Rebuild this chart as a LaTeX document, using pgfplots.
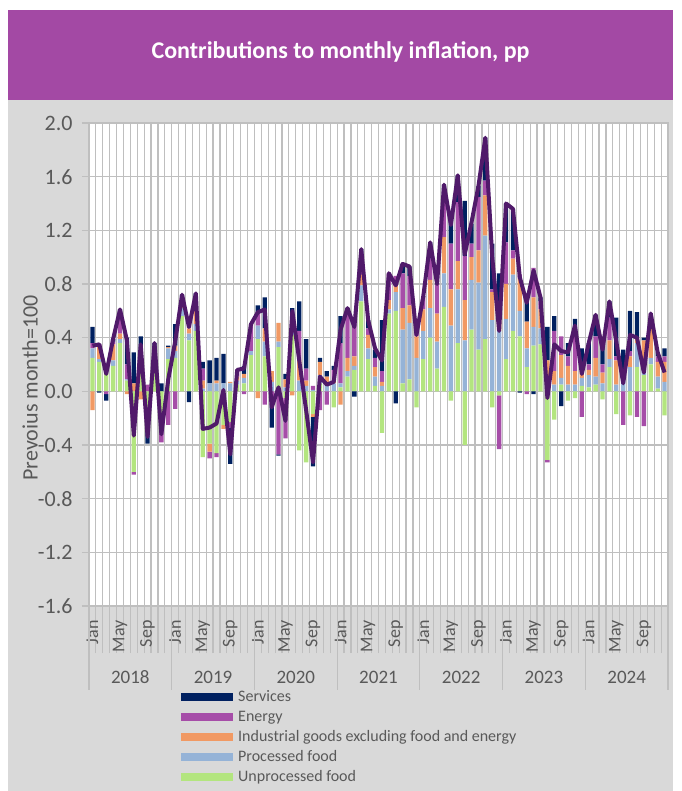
\documentclass[border=0pt]{standalone}
\usepackage{fontspec}
\setmainfont{Carlito}
\usepackage{pgfplots}
\usepackage{pgfplotstable}
\pgfplotsset{compat=1.18}

\definecolor{banner}{RGB}{163,73,164}
\definecolor{panel}{RGB}{217,217,217}
\definecolor{cS}{RGB}{0,32,96}
\definecolor{cE}{RGB}{166,77,168}
\definecolor{cI}{RGB}{241,153,99}
\definecolor{cP}{RGB}{149,179,215}
\definecolor{cG}{RGB}{179,229,127}
\definecolor{cL}{RGB}{80,26,106}
\definecolor{gridc}{RGB}{191,191,191}
\definecolor{txt}{RGB}{89,89,89}

\pgfplotstableread{
m G P I E S T
0 0.25 0.07 -0.14 0.04 0.12 0.34
1 0.22 0.02 0.10 0.01 -0.01 0.35
2 0.14 0.04 0.02 -0.02 -0.05 0.13
3 0.19 0.04 0.12 0.02 0.02 0.39
4 0.36 0.03 0.04 0.12 0.06 0.61
5 0.08 0.01 -0.02 0.11 0.20 0.38
6 -0.60 0.00 0.06 -0.02 0.23 -0.33
7 0.20 0.03 -0.06 0.02 0.16 0.35
8 -0.15 -0.07 -0.03 0.05 -0.14 -0.34
9 0.18 0.04 0.08 0.03 0.03 0.36
10 -0.20 -0.03 -0.02 -0.13 0.06 -0.32
11 0.24 0.08 0.01 -0.25 0.01 0.09
12 0.25 0.05 0.04 -0.13 0.16 0.37
13 0.56 0.06 0.03 0.05 0.02 0.72
14 0.38 0.05 0.04 0.08 -0.08 0.48
15 0.45 0.05 0.12 0.03 0.08 0.73
16 -0.49 0.02 0.06 0.09 0.05 -0.28
17 -0.39 0.06 -0.06 -0.05 0.17 -0.27
18 -0.46 0.06 0.02 -0.03 0.17 -0.24
19 -0.25 0.06 -0.03 0.00 0.22 0.01
20 -0.23 0.06 0.01 -0.04 -0.27 -0.47
21 0.05 0.03 0.03 0.04 0.01 0.16
22 0.06 0.04 0.03 -0.02 0.06 0.17
23 0.27 0.03 0.00 0.20 0.00 0.50
24 0.39 0.10 -0.05 0.09 0.06 0.59
25 0.26 0.11 0.10 -0.10 0.23 0.61
26 0.00 0.07 0.08 -0.10 -0.17 -0.12
27 0.33 0.04 0.14 -0.47 -0.01 0.03
28 -0.05 0.03 0.06 -0.30 0.04 -0.22
29 0.42 0.06 -0.03 0.06 0.08 0.60
30 -0.44 0.08 0.15 0.22 0.22 0.23
31 -0.53 0.04 0.04 0.09 0.22 -0.14
32 -0.17 0.01 -0.02 0.03 -0.37 -0.53
33 0.06 0.06 0.10 -0.14 0.03 0.11
34 0.00 0.05 0.06 -0.10 0.04 0.05
35 -0.12 0.06 0.02 0.08 0.03 0.07
36 0.03 0.03 -0.10 0.30 0.20 0.46
37 0.11 0.04 0.10 0.36 0.01 0.62
38 0.16 0.03 0.07 0.26 -0.04 0.48
39 0.67 0.12 0.08 0.10 0.09 1.06
40 0.24 0.08 0.10 0.05 0.06 0.53
41 0.04 0.07 0.07 0.07 0.06 0.32
42 -0.31 0.04 0.03 0.08 0.38 0.23
43 0.58 0.03 0.07 0.20 0.00 0.88
44 0.60 0.14 0.07 0.05 -0.09 0.79
45 0.06 0.40 0.16 0.26 0.07 0.95
46 0.09 0.42 0.13 0.22 0.07 0.93
47 -0.12 0.25 0.16 0.08 0.05 0.42
48 0.24 0.21 0.16 0.09 0.01 0.71
49 0.40 0.22 0.21 0.16 0.12 1.11
50 0.17 0.20 0.21 0.22 0.00 0.80
51 0.63 0.25 0.27 0.27 0.12 1.54
52 -0.07 0.49 0.27 0.34 0.20 1.24
53 0.36 0.40 0.21 0.44 0.20 1.61
54 -0.40 0.38 0.30 0.33 0.41 1.02
55 0.46 0.37 0.17 0.10 0.15 1.26
56 0.31 0.50 0.24 0.40 0.08 1.53
57 0.39 0.77 0.30 0.11 0.32 1.89
58 -0.12 0.53 0.21 0.02 0.34 1.00
59 -0.03 0.45 0.20 -0.40 0.23 0.45
60 0.24 0.30 0.26 0.31 0.29 1.40
61 0.45 0.42 0.12 0.06 0.31 1.36
62 0.41 0.19 0.24 0.03 -0.01 0.85
63 0.18 0.14 0.20 -0.02 0.16 0.66
64 0.34 0.14 0.22 0.22 -0.02 0.90
65 0.35 0.12 0.14 0.06 0.03 0.70
66 -0.51 0.10 0.13 -0.02 0.25 -0.05
67 -0.21 0.05 0.10 0.30 0.11 0.35
68 0.05 0.05 0.17 0.14 -0.11 0.30
69 -0.07 0.05 0.14 0.07 0.10 0.29
70 -0.05 0.05 0.10 0.28 0.11 0.49
71 0.04 0.06 0.10 -0.19 0.12 0.13
72 0.03 0.09 0.04 0.04 0.16 0.36
73 0.05 0.06 0.14 0.16 0.16 0.57
74 -0.06 0.06 0.08 0.06 0.17 0.31
75 0.18 0.06 0.14 0.17 0.12 0.67
76 -0.17 0.05 0.18 0.03 0.29 0.37
77 0.00 0.10 0.06 -0.25 0.15 0.06
78 -0.18 0.18 0.08 0.04 0.30 0.42
79 0.18 0.18 0.04 -0.19 0.19 0.40
80 0.12 0.06 0.20 -0.26 0.02 0.14
81 0.20 0.05 0.26 0.07 0.00 0.58
82 0.02 0.09 0.11 0.04 0.03 0.29
83 -0.18 0.07 0.15 0.04 0.06 0.14
}\data

\pgfplotsset{
  base/.style={
    scale only axis, width=579pt, height=483pt,
    at={(89pt,185pt)}, anchor=south west,
    xmin=-0.5, xmax=83.5, ymin=-1.6, ymax=2.0,
    clip=false,
  },
  bars/.style={base, ybar stacked, bar width=0.62},
}

\begin{document}
\begin{tikzpicture}[x=1pt,y=1pt]
\fill[white] (0,0) rectangle (681,791);
\fill[panel] (8,0) rectangle (673,691);
\fill[banner] (8,691) rectangle (673,781);
\node[text=white, font=\bfseries\fontsize{24}{28}\selectfont] at (340.5,739) {Contributions to monthly inflation, pp};
\node[rotate=90, text=txt, font=\fontsize{22}{26}\selectfont] at (30,403) {Prevoius month=100};

% long boundary ticks below the axis
\begin{axis}[base, axis y line=none, axis x line*=bottom,
  axis line style={draw=gridc, line width=1.2pt, -},
  xtick={-0.5,0.5,...,83.5}, xticklabels={},
  tick align=outside, major tick length=47pt,
  xtick style={draw=gridc, line width=1.2pt}]
\end{axis}

\begin{axis}[bars,
  axis background/.style={fill=white},
  axis line style={draw=gridc, line width=1.2pt},
  ytick={-1.6,-1.2,-0.8,-0.4,0,0.4,0.8,1.2,1.6,2.0},
  ymajorgrids, xmajorgrids,
  major grid style={draw=gridc, line width=1.2pt},
  ytick style={draw=gridc, line width=1.2pt},
  ytick pos=left,
  yticklabel style={font=\fontsize{22}{24}\selectfont, text=txt, xshift=-6pt,
     /pgf/number format/.cd, fixed, fixed zerofill, precision=1, assume math mode=true},
  xtick={-0.5,0.5,...,83.5},
  xticklabels={},
  xtick pos=bottom,
  tick align=outside,
  major tick length=7pt,
  xtick style={draw=gridc, line width=1.2pt},
  extra x ticks={0,4,8,12,16,20,24,28,32,36,40,44,48,52,56,60,64,68,72,76,80},
  extra x tick labels={Jan,May,Sep,Jan,May,Sep,Jan,May,Sep,Jan,May,Sep,Jan,May,Sep,Jan,May,Sep,Jan,May,Sep},
  extra x tick style={major tick length=0pt, grid=none,
     tick label style={yshift=-11pt, rotate=90, anchor=east, font=\fontsize{18}{20}\selectfont, text=txt}},
  legend image code/.code={\fill[#1] (0pt,-4pt) rectangle (52pt,4pt); \path (57pt,0pt);},
  reverse legend,
  legend cell align=left,
  legend style={at={(0.1589,-0.172)}, anchor=north west, draw=none, fill=none,
     inner sep=0pt, row sep=4pt, font=\fontsize{16}{19}\selectfont, text=txt,
     nodes={inner sep=0pt, text height=12pt, text depth=4pt}},
]
\addplot[fill=cG, draw=none] table[x=m, y expr={max(\thisrow{G},0)}] {\data};
\addlegendentry{Unprocessed food}
\addplot[fill=cP, draw=none] table[x=m, y expr={max(\thisrow{P},0)}] {\data};
\addlegendentry{Processed food}
\addplot[fill=cI, draw=none] table[x=m, y expr={max(\thisrow{I},0)}] {\data};
\addlegendentry{Industrial goods excluding food and energy}
\addplot[fill=cE, draw=none] table[x=m, y expr={max(\thisrow{E},0)}] {\data};
\addlegendentry{Energy}
\addplot[fill=cS, draw=none] table[x=m, y expr={max(\thisrow{S},0)}] {\data};
\addlegendentry{Services}
\draw[gridc, line width=1.2pt] (axis cs:-0.5,-1.6) -- ++(0pt,-84pt);
\draw[gridc, line width=1.2pt] (axis cs:11.5,-1.6) -- ++(0pt,-84pt);
\draw[gridc, line width=1.2pt] (axis cs:23.5,-1.6) -- ++(0pt,-84pt);
\draw[gridc, line width=1.2pt] (axis cs:35.5,-1.6) -- ++(0pt,-84pt);
\draw[gridc, line width=1.2pt] (axis cs:47.5,-1.6) -- ++(0pt,-84pt);
\draw[gridc, line width=1.2pt] (axis cs:59.5,-1.6) -- ++(0pt,-84pt);
\draw[gridc, line width=1.2pt] (axis cs:71.5,-1.6) -- ++(0pt,-84pt);
\draw[gridc, line width=1.2pt] (axis cs:83.5,-1.6) -- ++(0pt,-84pt);
\node[text=txt, font=\fontsize{19}{21}\selectfont, yshift=-71pt] at (axis cs:5.5,-1.6) {2018};
\node[text=txt, font=\fontsize{19}{21}\selectfont, yshift=-71pt] at (axis cs:17.5,-1.6) {2019};
\node[text=txt, font=\fontsize{19}{21}\selectfont, yshift=-71pt] at (axis cs:29.5,-1.6) {2020};
\node[text=txt, font=\fontsize{19}{21}\selectfont, yshift=-71pt] at (axis cs:41.5,-1.6) {2021};
\node[text=txt, font=\fontsize{19}{21}\selectfont, yshift=-71pt] at (axis cs:53.5,-1.6) {2022};
\node[text=txt, font=\fontsize{19}{21}\selectfont, yshift=-71pt] at (axis cs:65.5,-1.6) {2023};
\node[text=txt, font=\fontsize{19}{21}\selectfont, yshift=-71pt] at (axis cs:77.5,-1.6) {2024};
\end{axis}

\begin{axis}[bars, hide axis]
\addplot[fill=cG, draw=none] table[x=m, y expr={min(\thisrow{G},0)}] {\data};
\addplot[fill=cP, draw=none] table[x=m, y expr={min(\thisrow{P},0)}] {\data};
\addplot[fill=cI, draw=none] table[x=m, y expr={min(\thisrow{I},0)}] {\data};
\addplot[fill=cE, draw=none] table[x=m, y expr={min(\thisrow{E},0)}] {\data};
\addplot[fill=cS, draw=none] table[x=m, y expr={min(\thisrow{S},0)}] {\data};
\end{axis}

\begin{axis}[base, hide axis]
\addplot[cL, line width=4pt, line join=round, mark=none] table[x=m, y=T] {\data};
\end{axis}
\end{tikzpicture}
\end{document}
